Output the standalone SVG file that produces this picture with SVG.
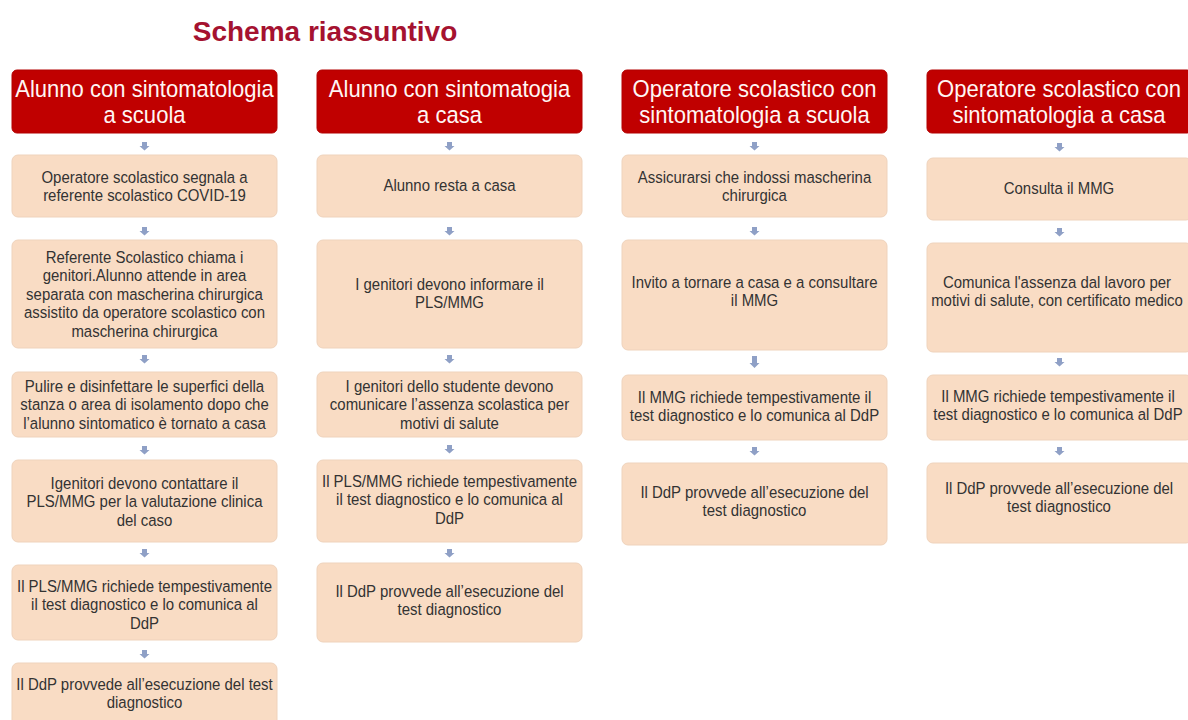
<svg xmlns="http://www.w3.org/2000/svg" width="1188" height="720" viewBox="0 0 1188 720">
<defs>
<style>
.bg{fill:#ffffff}
.title{font-family:"Liberation Sans",Arial,sans-serif;font-weight:bold;font-size:28px;fill:#a51230;text-anchor:middle}
.hdr{fill:#c00000;stroke:#b20000;stroke-width:1}
.box{fill:#f9dcc4;stroke:#efd3bc;stroke-width:1}
.ht{font-family:"Liberation Sans",Arial,sans-serif;font-size:24.5px;fill:#fff6f4;text-anchor:middle}
.bt{font-family:"Liberation Sans",Arial,sans-serif;font-size:17px;fill:#333333;text-anchor:middle}
.arr{fill:#8fa0c6}
</style>
</defs>
<rect class="bg" x="0" y="0" width="1188" height="720"/>
<text class="title" x="325" y="41">Schema riassuntivo</text>

<g id="connectors">
<path class="arr" d="M142 142h5v4h2.5l-5 4.5l-5-4.5h2.5z"/>
<path class="arr" d="M142 227h5v4h2.5l-5 4.5l-5-4.5h2.5z"/>
<path class="arr" d="M142 355h5v4h2.5l-5 4.5l-5-4.5h2.5z"/>
<path class="arr" d="M142 446h5v4h2.5l-5 4.5l-5-4.5h2.5z"/>
<path class="arr" d="M142 549h5v4h2.5l-5 4.5l-5-4.5h2.5z"/>
<path class="arr" d="M142 650h5v4h2.5l-5 4.5l-5-4.5h2.5z"/>

<path class="arr" d="M447 142h5v4h2.5l-5 4.5l-5-4.5h2.5z"/>
<path class="arr" d="M447 227h5v4h2.5l-5 4.5l-5-4.5h2.5z"/>
<path class="arr" d="M447 355h5v4h2.5l-5 4.5l-5-4.5h2.5z"/>
<path class="arr" d="M447 445h5v4h2.5l-5 4.5l-5-4.5h2.5z"/>
<path class="arr" d="M447 549h5v4h2.5l-5 4.5l-5-4.5h2.5z"/>

<path class="arr" d="M752 142h5v4h2.5l-5 4.5l-5-4.5h2.5z"/>
<path class="arr" d="M752 227h5v4h2.5l-5 4.5l-5-4.5h2.5z"/>
<path class="arr" d="M752 356h5v7h2.5l-5 5l-5-5h2.5z"/>
<path class="arr" d="M752 447h5v4h2.5l-5 4.5l-5-4.5h2.5z"/>

<path class="arr" d="M1057 143h5v4h2.5l-5 4.5l-5-4.5h2.5z"/>
<path class="arr" d="M1057 228h5v4h2.5l-5 4.5l-5-4.5h2.5z"/>
<path class="arr" d="M1057 358h5v4h2.5l-5 4.5l-5-4.5h2.5z"/>
<path class="arr" d="M1057 447h5v4h2.5l-5 4.5l-5-4.5h2.5z"/>
</g>

<!-- Column 1 -->
<g id="c1-header">
<rect class="hdr" x="12" y="70" width="265" height="63" rx="5"/>
<text class="ht" transform="translate(144.5 0) scale(.9 1)"><tspan x="0" y="97">Alunno con sintomatologia</tspan><tspan x="0" y="123">a scuola</tspan></text>
</g>
<g id="c1-n1">
<rect class="box" x="12" y="155" width="265" height="62" rx="6"/>
<text class="bt" transform="translate(144.5 0) scale(.88 1)"><tspan x="0" y="183">Operatore scolastico segnala a</tspan><tspan x="0" y="201.5">referente scolastico COVID-19</tspan></text>
</g>
<g id="c1-n2">
<rect class="box" x="12" y="240" width="265" height="108" rx="6"/>
<text class="bt" transform="translate(144.5 0) scale(.88 1)"><tspan x="0" y="263">Referente Scolastico chiama i</tspan><tspan x="0" y="281.5">genitori.Alunno attende in area</tspan><tspan x="0" y="300">separata con mascherina chirurgica</tspan><tspan x="0" y="318.5">assistito da operatore scolastico con</tspan><tspan x="0" y="337">mascherina chirurgica</tspan></text>
</g>
<g id="c1-n3">
<rect class="box" x="12" y="372" width="265" height="65" rx="6"/>
<text class="bt" transform="translate(144.5 0) scale(.88 1)"><tspan x="0" y="392">Pulire e disinfettare le superfici della</tspan><tspan x="0" y="410.5">stanza o area di isolamento dopo che</tspan><tspan x="0" y="429">l’alunno sintomatico è tornato a casa</tspan></text>
</g>
<g id="c1-n4">
<rect class="box" x="12" y="460" width="265" height="82" rx="6"/>
<text class="bt" transform="translate(144.5 0) scale(.88 1)"><tspan x="0" y="489">Igenitori devono contattare il</tspan><tspan x="0" y="507.5">PLS/MMG per la valutazione clinica</tspan><tspan x="0" y="526">del caso</tspan></text>
</g>
<g id="c1-n5">
<rect class="box" x="12" y="565" width="265" height="75" rx="6"/>
<text class="bt" transform="translate(144.5 0) scale(.88 1)"><tspan x="0" y="592">Il PLS/MMG richiede tempestivamente</tspan><tspan x="0" y="610.5">il test diagnostico e lo comunica al</tspan><tspan x="0" y="629">DdP</tspan></text>
</g>
<g id="c1-n6">
<rect class="box" x="12" y="663" width="265" height="70" rx="6"/>
<text class="bt" transform="translate(144.5 0) scale(.88 1)"><tspan x="0" y="690">Il DdP provvede all’esecuzione del test</tspan><tspan x="0" y="708.5">diagnostico</tspan></text>
</g>

<!-- Column 2 -->
<g id="c2-header">
<rect class="hdr" x="317" y="70" width="265" height="63" rx="5"/>
<text class="ht" transform="translate(449.5 0) scale(.9 1)"><tspan x="0" y="97">Alunno con sintomatogia</tspan><tspan x="0" y="123">a casa</tspan></text>
</g>
<g id="c2-n1">
<rect class="box" x="317" y="155" width="265" height="62" rx="6"/>
<text class="bt" transform="translate(449.5 0) scale(.88 1)"><tspan x="0" y="191.5">Alunno resta a casa</tspan></text>
</g>
<g id="c2-n2">
<rect class="box" x="317" y="240" width="265" height="108" rx="6"/>
<text class="bt" transform="translate(449.5 0) scale(.88 1)"><tspan x="0" y="290">I genitori devono informare il</tspan><tspan x="0" y="308.5">PLS/MMG</tspan></text>
</g>
<g id="c2-n3">
<rect class="box" x="317" y="372" width="265" height="65" rx="6"/>
<text class="bt" transform="translate(449.5 0) scale(.88 1)"><tspan x="0" y="392">I genitori dello studente devono</tspan><tspan x="0" y="410.5">comunicare l’assenza scolastica per</tspan><tspan x="0" y="429">motivi di salute</tspan></text>
</g>
<g id="c2-n4">
<rect class="box" x="317" y="460" width="265" height="82" rx="6"/>
<text class="bt" transform="translate(449.5 0) scale(.88 1)"><tspan x="0" y="487">Il PLS/MMG richiede tempestivamente</tspan><tspan x="0" y="505.5">il test diagnostico e lo comunica al</tspan><tspan x="0" y="524">DdP</tspan></text>
</g>
<g id="c2-n5">
<rect class="box" x="317" y="563" width="265" height="79" rx="6"/>
<text class="bt" transform="translate(449.5 0) scale(.88 1)"><tspan x="0" y="597">Il DdP provvede all’esecuzione del</tspan><tspan x="0" y="615.5">test diagnostico</tspan></text>
</g>

<!-- Column 3 -->
<g id="c3-header">
<rect class="hdr" x="622" y="70" width="265" height="63" rx="5"/>
<text class="ht" transform="translate(754.5 0) scale(.9 1)"><tspan x="0" y="97">Operatore scolastico con</tspan><tspan x="0" y="123">sintomatologia a scuola</tspan></text>
</g>
<g id="c3-n1">
<rect class="box" x="622" y="155" width="265" height="62" rx="6"/>
<text class="bt" transform="translate(754.5 0) scale(.88 1)"><tspan x="0" y="183">Assicurarsi che indossi mascherina</tspan><tspan x="0" y="201.5">chirurgica</tspan></text>
</g>
<g id="c3-n2">
<rect class="box" x="622" y="240" width="265" height="110" rx="6"/>
<text class="bt" transform="translate(754.5 0) scale(.88 1)"><tspan x="0" y="288">Invito a tornare a casa e a consultare</tspan><tspan x="0" y="306.5">il MMG</tspan></text>
</g>
<g id="c3-n3">
<rect class="box" x="622" y="375" width="265" height="65" rx="6"/>
<text class="bt" transform="translate(754.5 0) scale(.88 1)"><tspan x="0" y="403">Il MMG richiede tempestivamente il</tspan><tspan x="0" y="421.5">test diagnostico e lo comunica al DdP</tspan></text>
</g>
<g id="c3-n4">
<rect class="box" x="622" y="463" width="265" height="82" rx="6"/>
<text class="bt" transform="translate(754.5 0) scale(.88 1)"><tspan x="0" y="498">Il DdP provvede all’esecuzione del</tspan><tspan x="0" y="516.5">test diagnostico</tspan></text>
</g>

<!-- Column 4 -->
<g id="c4-header">
<rect class="hdr" x="927" y="70" width="265" height="63" rx="5"/>
<text class="ht" transform="translate(1059 0) scale(.9 1)"><tspan x="0" y="97">Operatore scolastico con</tspan><tspan x="0" y="123">sintomatologia a casa</tspan></text>
</g>
<g id="c4-n1">
<rect class="box" x="927" y="158" width="265" height="62" rx="6"/>
<text class="bt" transform="translate(1059 0) scale(.88 1)"><tspan x="0" y="194.5">Consulta il MMG</tspan></text>
</g>
<g id="c4-n2">
<rect class="box" x="927" y="243" width="265" height="109" rx="6"/>
<text class="bt" transform="translate(1057 0) scale(.88 1)"><tspan x="0" y="288">Comunica l'assenza dal lavoro per</tspan><tspan x="0" y="306.5">motivi di salute, con certificato medico</tspan></text>
</g>
<g id="c4-n3">
<rect class="box" x="927" y="375" width="265" height="65" rx="6"/>
<text class="bt" transform="translate(1058 0) scale(.88 1)"><tspan x="0" y="402">Il MMG richiede tempestivamente il</tspan><tspan x="0" y="420.5">test diagnostico e lo comunica al DdP</tspan></text>
</g>
<g id="c4-n4">
<rect class="box" x="927" y="463" width="265" height="80" rx="6"/>
<text class="bt" transform="translate(1059 0) scale(.88 1)"><tspan x="0" y="494">Il DdP provvede all’esecuzione del</tspan><tspan x="0" y="512.5">test diagnostico</tspan></text>
</g>
</svg>
